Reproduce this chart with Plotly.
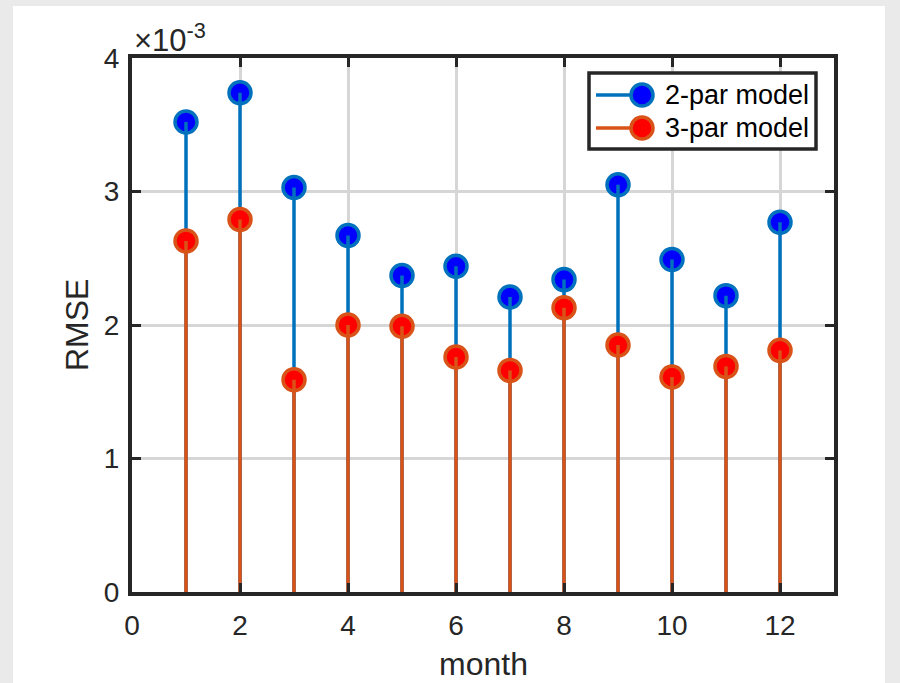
import plotly.graph_objects as go

# ---- data ----
months = [1, 2, 3, 4, 5, 6, 7, 8, 9, 10, 11, 12]
rmse_2par = [3.52e-3, 3.74e-3, 3.03e-3, 2.67e-3, 2.37e-3, 2.44e-3,
             2.21e-3, 2.34e-3, 3.05e-3, 2.49e-3, 2.22e-3, 2.77e-3]
rmse_3par = [2.63e-3, 2.79e-3, 1.59e-3, 2.00e-3, 1.99e-3, 1.76e-3,
             1.66e-3, 2.13e-3, 1.85e-3, 1.61e-3, 1.69e-3, 1.81e-3]
series_names = ["2-par model", "3-par model"]
x_ticks = [0, 2, 4, 6, 8, 10, 12]
y_ticks = [0, 1e-3, 2e-3, 3e-3, 4e-3]
y_tick_labels = ["0", "1", "2", "3", "4"]
x_title = "month"
y_title = "RMSE"
exponent_label = "×10<sup>-3</sup>"

# ---- style ----
W, H = 900, 683
L, R, T, B = 132, 66, 58, 91
PW, PH = W - L - R, H - T - B
FONT = "Liberation Sans, Arial, Helvetica, sans-serif"
AX = "#262626"
line_cols = ["#0072BD", "#D95319"]
fill_cols = ["#0000FF", "#FF0000"]


def px_x(px):
    return (px - L) / PW


def px_y(py):
    return (H - B - py) / PH


def stems(xs, ys):
    sx, sy = [], []
    for xv, yv in zip(xs, ys):
        sx += [xv, xv, None]
        sy += [0, yv, None]
    return sx, sy


fig = go.Figure()
for name, vals, lc, fc in zip(series_names, [rmse_2par, rmse_3par], line_cols, fill_cols):
    fig.add_trace(go.Scatter(
        x=months, y=vals, mode="markers", name=name, showlegend=False,
        marker=dict(size=22, color=fc, line=dict(color=lc, width=3.5)),
        hoverinfo="x+y"))
    sx, sy = stems(months, vals)
    fig.add_trace(go.Scatter(
        x=sx, y=sy, mode="lines", showlegend=False, hoverinfo="skip",
        line=dict(color=lc, width=3.5)))

shapes = [
    # white figure panel on the grey page
    dict(type="rect", xref="paper", yref="paper", layer="below",
         x0=px_x(13), x1=px_x(885), y0=px_y(H + 5), y1=px_y(6),
         fillcolor="white", line=dict(width=0)),
    # legend box
    dict(type="rect", xref="paper", yref="paper", layer="above",
         x0=px_x(589), x1=px_x(816), y0=px_y(149), y1=px_y(73),
         fillcolor="white", line=dict(color=AX, width=3.5)),
]
annotations = []
rows_y = [95, 128]
for name, lc, fc, ry in zip(series_names, line_cols, fill_cols, rows_y):
    shapes.append(dict(type="line", xref="paper", yref="paper", layer="above",
                       x0=px_x(596), x1=px_x(642), y0=px_y(ry), y1=px_y(ry),
                       line=dict(color=lc, width=3.5)))
    shapes.append(dict(type="circle", xref="paper", yref="paper", layer="above",
                       xsizemode="pixel", ysizemode="pixel",
                       xanchor=px_x(642), yanchor=px_y(ry),
                       x0=-11, x1=11, y0=-11, y1=11,
                       fillcolor=fc, line=dict(color=lc, width=3.5)))
    annotations.append(dict(text=name, xref="paper", yref="paper",
                            x=px_x(663), y=px_y(ry), xanchor="left", yanchor="middle",
                            showarrow=False, font=dict(family=FONT, size=27, color="#000000")))

annotations += [
    dict(text=x_title, xref="paper", yref="paper", x=0.5, y=px_y(664),
         xanchor="center", yanchor="middle", showarrow=False,
         font=dict(family=FONT, size=32, color=AX)),
    dict(text=y_title, xref="paper", yref="paper", x=px_x(77), y=0.5,
         xanchor="center", yanchor="middle", textangle=-90, showarrow=False,
         font=dict(family=FONT, size=32, color=AX)),
    dict(text=exponent_label, xref="paper", yref="paper", x=px_x(132), y=1.0,
         xanchor="left", yanchor="bottom", yshift=-2, showarrow=False,
         font=dict(family=FONT, size=31, color=AX)),
]

axis_common = dict(
    showline=True, linecolor=AX, linewidth=4, mirror="ticks",
    ticks="inside", ticklen=9, tickwidth=3, tickcolor=AX,
    showgrid=True, gridcolor="#D6D6D6", gridwidth=2.5,
    zeroline=False, tickfont=dict(family=FONT, size=28, color=AX),
)

fig.update_layout(
    width=W, height=H,
    margin=dict(l=L, r=R, t=T, b=B, autoexpand=False),
    paper_bgcolor="#EAEAEA", plot_bgcolor="white",
    showlegend=False,
    xaxis=dict(range=[0, 13], tickvals=x_ticks, ticklabelstandoff=5, **axis_common),
    yaxis=dict(range=[0, 4e-3], tickvals=y_ticks, ticktext=y_tick_labels,
               ticklabelstandoff=3, **axis_common),
    shapes=shapes, annotations=annotations,
)

fig.write_html("out.html")
